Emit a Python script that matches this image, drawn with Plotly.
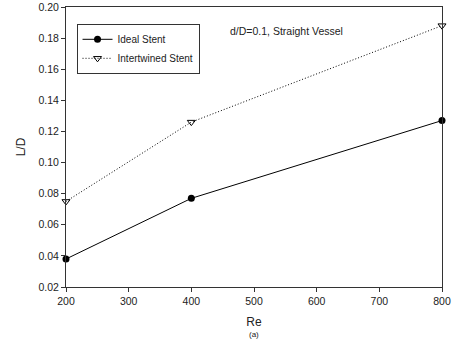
import plotly.graph_objects as go

re_values = [200, 400, 800]
ideal_stent = [0.038, 0.077, 0.127]
intertwined_stent = [0.075, 0.126, 0.188]

x_ticks = [200, 300, 400, 500, 600, 700, 800]
y_ticks = [0.02, 0.04, 0.06, 0.08, 0.10, 0.12, 0.14, 0.16, 0.18, 0.20]

fig = go.Figure()
fig.add_trace(go.Scatter(
    x=re_values, y=ideal_stent, mode="lines+markers", name="Ideal Stent",
    line=dict(color="black", width=1),
    marker=dict(symbol="circle", size=7, color="black"),
    cliponaxis=False,
))
fig.add_trace(go.Scatter(
    x=re_values, y=intertwined_stent, mode="lines+markers", name="Intertwined Stent",
    line=dict(color="black", width=1, dash="1px,2px"),
    marker=dict(symbol="triangle-down-open", size=7, color="black", line=dict(width=1)),
    cliponaxis=False,
))

axis_common = dict(
    showgrid=False, zeroline=False, showline=True, linecolor="#333333", linewidth=1,
    mirror=True, ticks="outside", ticklen=4, tickcolor="#333333", automargin=False,
    tickfont=dict(family="Arial, Liberation Sans", size=10.5, color="#222222"),
)

fig.update_layout(
    width=454, height=340,
    margin=dict(l=66, r=12, t=7, b=53, autoexpand=False),
    paper_bgcolor="white", plot_bgcolor="white",
    font=dict(family="Arial, Liberation Sans", size=10, color="#222222"),
    xaxis=dict(range=[200, 800], tickvals=x_ticks, ticktext=[str(v) for v in x_ticks],
               title=dict(text="Re", font=dict(size=12), standoff=12), **axis_common),
    yaxis=dict(range=[0.02, 0.20], tickvals=y_ticks, ticktext=[f"{v:.2f}" for v in y_ticks],
               title=dict(text="L/D", font=dict(size=12), standoff=10), **axis_common),
    legend=dict(x=0.028, y=0.94, xanchor="left", yanchor="top",
                bordercolor="#333333", borderwidth=1, bgcolor="white",
                font=dict(size=10), tracegroupgap=0, itemwidth=30),
    showlegend=True,
    annotations=[
        dict(text="d/D=0.1, Straight Vessel", x=0.432, y=0.915, xref="paper", yref="paper",
             xanchor="left", yanchor="middle", showarrow=False, font=dict(size=10.5)),
        dict(text="(a)", x=0.5, y=0, xref="paper", yref="paper", yshift=-41,
             xanchor="center", yanchor="top", showarrow=False, font=dict(size=8)),
    ],
)

fig.write_html("out.html")
